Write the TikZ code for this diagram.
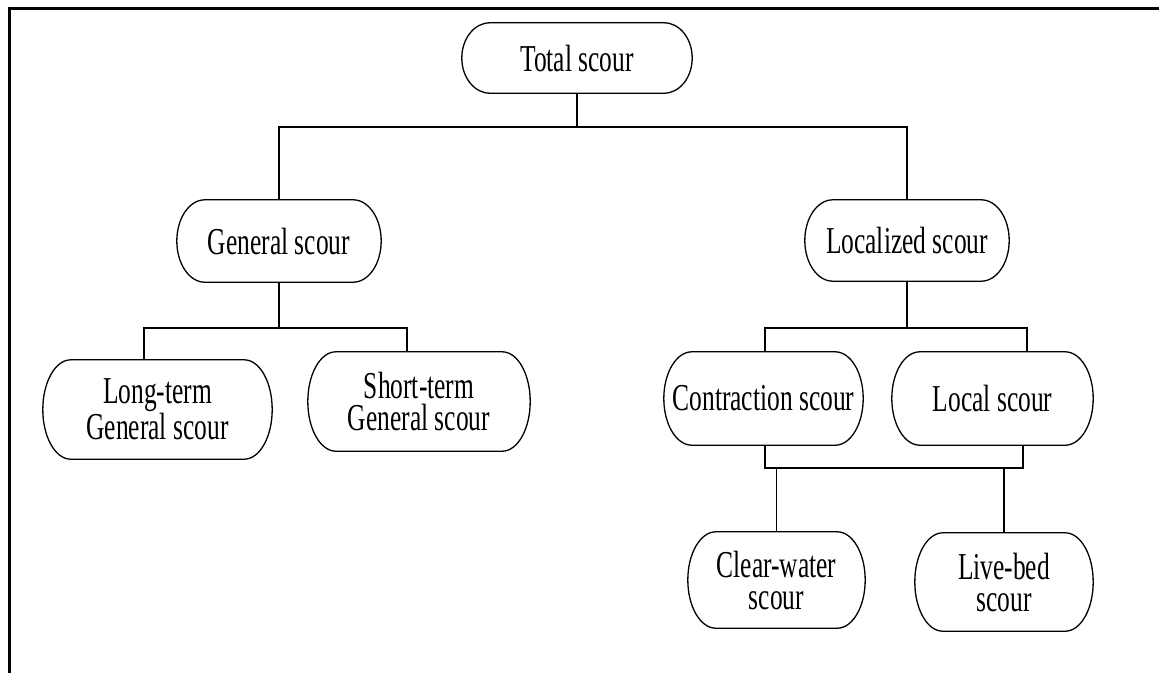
\documentclass[tikz,border=0pt]{standalone}
\usepackage{fontspec}
\setmainfont{Liberation Serif}[FakeStretch=0.67]
\usetikzlibrary{calc}

\begin{document}
\begin{tikzpicture}[
        x=1pt, y=-1pt,
        font=\fontsize{38}{32}\selectfont,
        item/.style={inner sep=0pt, align=center},
        box/.style={line width=1.3pt},
        link/.style={line width=1.3pt}
    ]
    \useasboundingbox (0,0) rectangle (1159,673);

    % Frame
    \draw[line width=3pt] (9,673) -- (9,8) -- (1159,8);

    % Top
    \node[item, minimum width=230pt, minimum height=70pt] (total) at (577,58) {Total scour};

    % Second level
    \node[item, minimum width=204pt, minimum height=82pt] (general) at (279,241) {General scour};
    \node[item, minimum width=204pt, minimum height=81pt] (localized) at (907,240.5) {Localized scour};

    % General scour branch
    \node[item, minimum width=229pt, minimum height=99pt] (longterm) at (157.5,409.5) {Long-term\\General scour};
    \node[item, minimum width=222pt, minimum height=99pt] (shortterm) at (419,401.5) {Short-term\\General scour};

    % Localized scour branch
    \node[item, minimum width=199pt, minimum height=93pt] (contraction) at (763.5,398.5) {Contraction scour};
    \node[item, minimum width=201pt, minimum height=93pt] (localsc) at (992.5,398.5) {Local scour};
    \node[item, minimum width=177pt, minimum height=96pt] (clearwater) at (776.5,580) {Clear-water\\scour};
    \node[item, minimum width=178pt, minimum height=98pt] (livebed) at (1004,582) {Live-bed\\scour};

    % Outlines
    \foreach \b in {total,general,localized,longterm,shortterm,contraction,localsc,clearwater,livebed}
        \draw[box] let \p1=(\b.north east), \p2=(\b.south west) in
            (\x2+28pt,\y1) -- (\x1-28pt,\y1)
            arc[start angle=90, end angle=-90, x radius=28pt, y radius={(\y1-\y2)/2}]
            -- (\x2+28pt,\y2)
            arc[start angle=270, end angle=90, x radius=28pt, y radius={(\y1-\y2)/2}] -- cycle;

    % Connectors
    \coordinate (j0) at (577,127);
    \coordinate (j1) at (279,328);
    \coordinate (j2) at (907,328);
    \coordinate (j3) at (900,468);

    \draw[link] (total.south) -- (j0);
    \draw[link] (general.north) |- (j0) -| (localized.north);

    \draw[link] (general.south) -- (j1);
    \draw[link] ([xshift=-13.5pt]longterm.north) |- (j1) -| ([xshift=-12pt]shortterm.north);

    \draw[link] (localized.south) -- (j2);
    \draw[link] ([xshift=1.5pt]contraction.north) |- (j2) -| ([xshift=34.5pt]localsc.north);

    \draw[link] ([xshift=1.5pt]contraction.south) |- (j3) -| ([xshift=30.5pt]localsc.south);
    \draw[link] (clearwater.north) -- (clearwater.north |- j3);
    \draw[link] (livebed.north) -- (livebed.north |- j3);

\end{tikzpicture}
\end{document}
